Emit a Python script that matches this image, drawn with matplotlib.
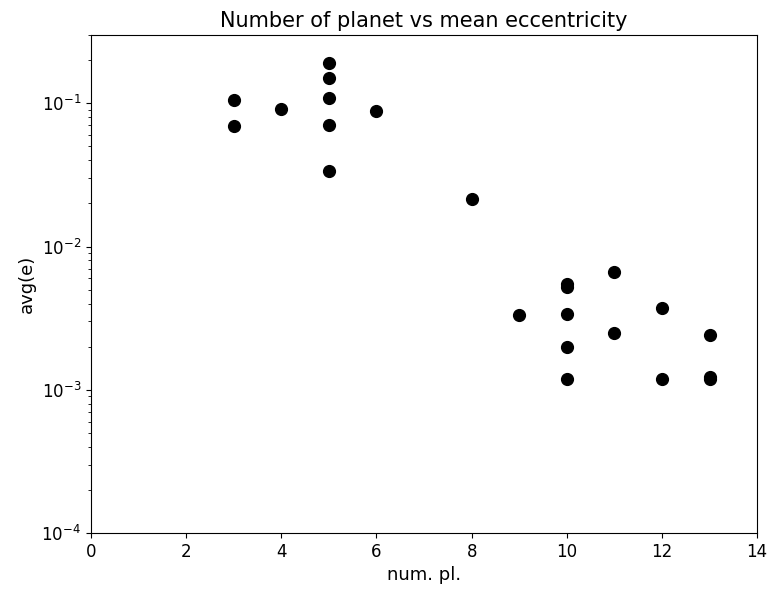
import matplotlib

matplotlib.use("Agg")
import matplotlib.pyplot as plt

# number of planets in system vs mean eccentricity
num_pl = [3, 3, 4, 5, 5, 5, 5, 5, 6, 8, 9,
          10, 10, 10, 10, 10, 11, 11, 12, 12, 13, 13, 13]
avg_e = [0.105, 0.0695, 0.0905, 0.19, 0.15, 0.108, 0.0705, 0.0339, 0.089, 0.0215, 0.00333,
         0.0055, 0.0052, 0.0034, 0.002, 0.00118, 0.0066, 0.0025, 0.00375, 0.00118,
         0.0024, 0.00123, 0.00118]

plt.rcParams["font.size"] = 12

fig = plt.figure(figsize=(7.71, 5.92), dpi=100)
ax = fig.add_axes([0.118, 0.0997, 0.864, 0.8413])
ax.scatter(num_pl, avg_e, s=72, color="black")
ax.set_yscale("log")
ax.set_xlim(0, 14)
ax.set_ylim(1e-4, 0.3)
ax.set_xlabel("num. pl.", fontsize=13)
ax.set_ylabel("avg(e)", fontsize=13)
ax.set_title("Number of planet vs mean eccentricity", fontsize=15)

fig.savefig("out.png", dpi=100)
